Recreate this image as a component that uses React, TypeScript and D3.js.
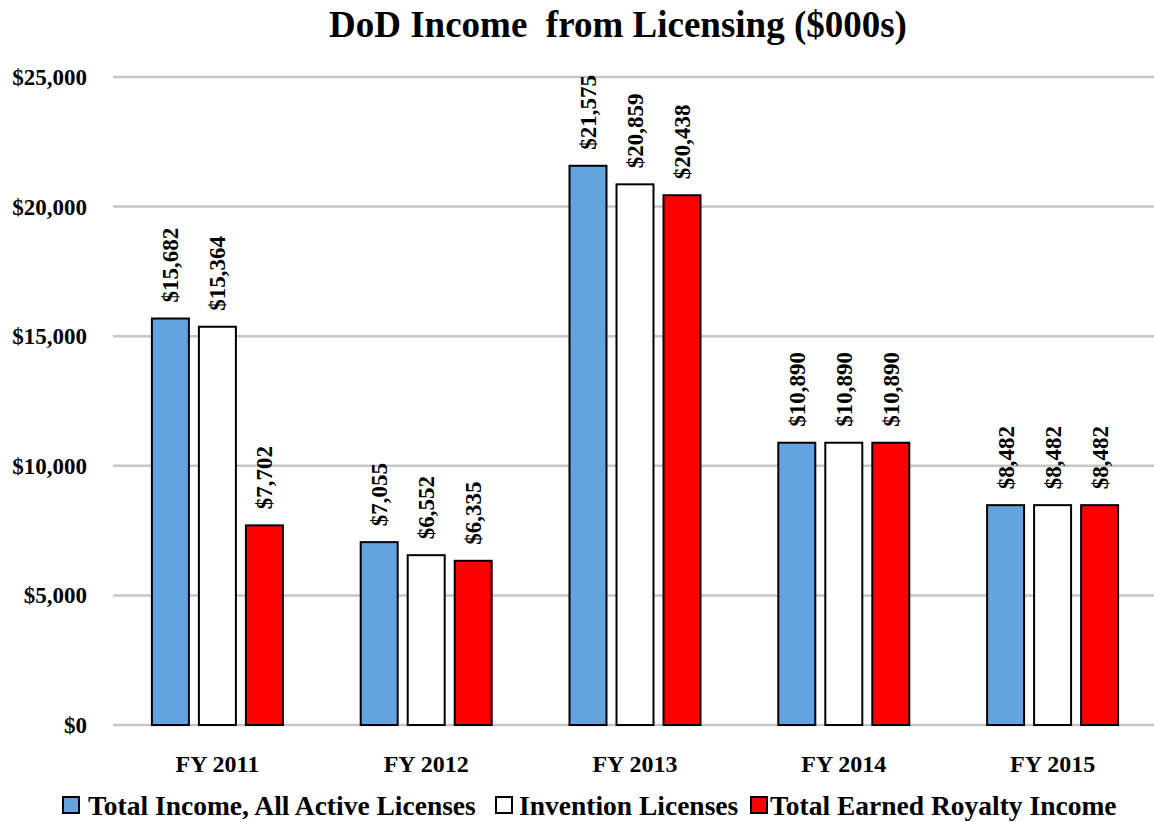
import React from "react";
import * as d3 from "d3";

const categories = ["FY 2011", "FY 2012", "FY 2013", "FY 2014", "FY 2015"];
const seriesNames = ["Total Income, All Active Licenses", "Invention Licenses", "Total Earned Royalty Income"];
const totalIncome = [15682, 7055, 21575, 10890, 8482];
const inventionLicenses = [15364, 6552, 20859, 10890, 8482];
const royaltyIncome = [7702, 6335, 20438, 10890, 8482];
const yTicks = [0, 5000, 10000, 15000, 20000, 25000];
const colors = ["#62A3E0", "#FFFFFF", "#FF0000"];

const W = 1154, H = 822;
const FONT = "'Liberation Serif', 'Times New Roman', serif";

export default function App() {
  const series = [totalIncome, inventionLicenses, royaltyIncome];
  const x0 = d3.scaleBand<string>().domain(categories).range([113, 1157]).padding(0);
  const x1 = d3.scaleBand<number>().domain([0, 1, 2]).range([-65.5, 65.5]).paddingInner(0.213).paddingOuter(0);
  const y = d3.scaleLinear().domain([0, 25000]).range([725, 77]);
  const fmt = d3.format(",");
  const legendX = [[63, 88], [496, 519], [751, 770]];

  return (
    <svg width={W} height={H} style={{ position: "absolute", left: 0, top: 0, background: "#fff" }} fontFamily={FONT} fontWeight="bold">
      <text x={618} y={37} textAnchor="middle" fontSize={37} style={{ whiteSpace: "pre" }}>DoD Income  from Licensing ($000s)</text>
      {yTicks.map((t) => (
        <g key={t}>
          <line x1={113} x2={1157} y1={y(t)} y2={y(t)} stroke="#C6C6C6" strokeWidth={2.5} />
          <text x={87} y={y(t)} dy="0.35em" textAnchor="end" fontSize={23}>{"$" + fmt(t)}</text>
        </g>
      ))}
      {categories.map((c, i) => {
        const cx = (x0(c) as number) + x0.bandwidth() / 2;
        return (
          <g key={c}>
            {series.map((s, j) => {
              const bx = cx + (x1(j) as number);
              const bw = x1.bandwidth();
              const top = y(s[i]);
              return (
                <g key={j}>
                  <rect x={bx} y={top} width={bw} height={y(0) - top} fill={colors[j]} stroke="#000" strokeWidth={2} />
                  <text transform={`translate(${bx + bw / 2},${top - 16}) rotate(-90)`} dy="0.35em" fontSize={23}>{"$" + fmt(s[i])}</text>
                </g>
              );
            })}
            <text x={cx} y={772} textAnchor="middle" fontSize={24}>{c}</text>
          </g>
        );
      })}
      {seriesNames.map((n, j) => (
        <g key={n}>
          <rect x={legendX[j][0]} y={797} width={16} height={16} fill={colors[j]} stroke="#000" strokeWidth={2} />
          <text x={legendX[j][1]} y={815} fontSize={27.5}>{n}</text>
        </g>
      ))}
    </svg>
  );
}
